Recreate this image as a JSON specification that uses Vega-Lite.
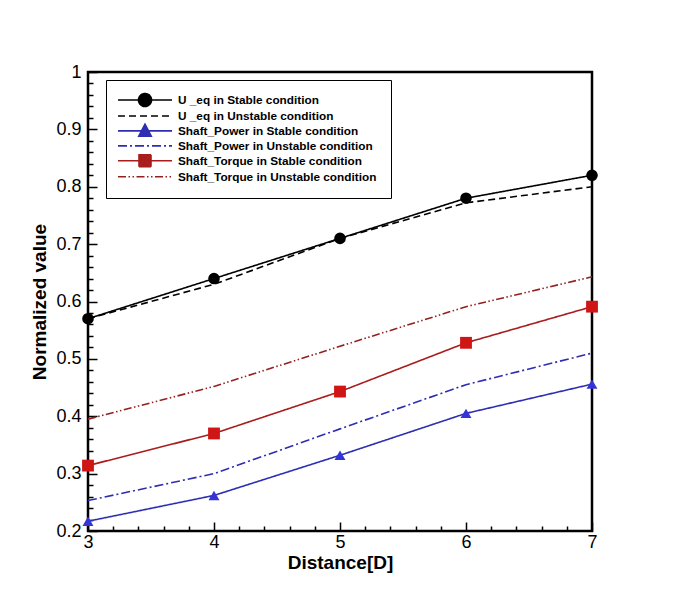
{
  "$schema": "https://vega.github.io/schema/vega-lite/v6.json",
  "width": 504,
  "height": 459,
  "autosize": "none",
  "padding": {"left": 88, "top": 72, "right": 81, "bottom": 67},
  "background": "white",
  "config": {
    "view": {"stroke": "black", "strokeWidth": 2.5},
    "font": "Liberation Sans",
    "legend": {
      "orient": "none",
      "legendX": 18,
      "legendY": 8,
      "padding": 14,
      "strokeColor": "black",
      "fillColor": "white",
      "symbolSize": 100,
      "symbolStrokeWidth": 1.6,
      "symbolOpacity": 1,
      "symbolOffset": 19,
      "labelOffset": 27,
      "rowPadding": -2.1,
      "labelFont": "Liberation Sans",
      "labelFontSize": 11.8,
      "labelFontWeight": "bold",
      "labelColor": "black",
      "labelLimit": 400
    }
  },
  "data": {
    "values": [
      {"x": 3, "v": 0.57, "s": "U _eq in Stable condition"},
      {"x": 4, "v": 0.64, "s": "U _eq in Stable condition"},
      {"x": 5, "v": 0.71, "s": "U _eq in Stable condition"},
      {"x": 6, "v": 0.78, "s": "U _eq in Stable condition"},
      {"x": 7, "v": 0.82, "s": "U _eq in Stable condition"},
      {"x": 3, "v": 0.57, "s": "U _eq in Unstable condition"},
      {"x": 4, "v": 0.63, "s": "U _eq in Unstable condition"},
      {"x": 5, "v": 0.71, "s": "U _eq in Unstable condition"},
      {"x": 6, "v": 0.772, "s": "U _eq in Unstable condition"},
      {"x": 7, "v": 0.80, "s": "U _eq in Unstable condition"},
      {"x": 3, "v": 0.217, "s": "Shaft_Power in Stable condition"},
      {"x": 4, "v": 0.262, "s": "Shaft_Power in Stable condition"},
      {"x": 5, "v": 0.332, "s": "Shaft_Power in Stable condition"},
      {"x": 6, "v": 0.405, "s": "Shaft_Power in Stable condition"},
      {"x": 7, "v": 0.456, "s": "Shaft_Power in Stable condition"},
      {"x": 3, "v": 0.253, "s": "Shaft_Power in Unstable condition"},
      {"x": 4, "v": 0.30, "s": "Shaft_Power in Unstable condition"},
      {"x": 5, "v": 0.378, "s": "Shaft_Power in Unstable condition"},
      {"x": 6, "v": 0.455, "s": "Shaft_Power in Unstable condition"},
      {"x": 7, "v": 0.51, "s": "Shaft_Power in Unstable condition"},
      {"x": 3, "v": 0.314, "s": "Shaft_Torque in Stable condition"},
      {"x": 4, "v": 0.37, "s": "Shaft_Torque in Stable condition"},
      {"x": 5, "v": 0.443, "s": "Shaft_Torque in Stable condition"},
      {"x": 6, "v": 0.528, "s": "Shaft_Torque in Stable condition"},
      {"x": 7, "v": 0.591, "s": "Shaft_Torque in Stable condition"},
      {"x": 3, "v": 0.395, "s": "Shaft_Torque in Unstable condition"},
      {"x": 4, "v": 0.452, "s": "Shaft_Torque in Unstable condition"},
      {"x": 5, "v": 0.522, "s": "Shaft_Torque in Unstable condition"},
      {"x": 6, "v": 0.591, "s": "Shaft_Torque in Unstable condition"},
      {"x": 7, "v": 0.643, "s": "Shaft_Torque in Unstable condition"}
    ]
  },
  "layer": [
    {
      "mark": {"type": "line", "strokeWidth": 1.6},
      "encoding": {
        "x": {
          "field": "x", "type": "quantitative",
          "scale": {"domain": [3, 7], "nice": false, "zero": false},
          "axis": {
            "orient": "bottom",
            "title": "Distance[D]",
            "values": [3, 4, 5, 6, 7],
            "format": "d",
            "tickSize": -9,
            "tickColor": "black",
            "tickWidth": 1.5,
            "domain": false,
            "grid": false,
            "labelFlush": false,
            "labelOverlap": false,
            "labelFont": "Liberation Sans",
            "labelFontSize": 18,
            "labelColor": "black",
            "labelPadding": 11,
            "titleFont": "Liberation Sans",
            "titleFontSize": 19,
            "titleFontWeight": "bold",
            "titleColor": "black",
            "titlePadding": 2
          }
        },
        "y": {
          "field": "v", "type": "quantitative",
          "scale": {"domain": [0.2, 1], "nice": false, "zero": false},
          "axis": {
            "orient": "left",
            "title": "Normalized value",
            "values": [0.2, 0.3, 0.4, 0.5, 0.6, 0.7, 0.8, 0.9, 1],
            "labelExpr": "format(datum.value, '.1~f')",
            "tickSize": -9,
            "tickColor": "black",
            "tickWidth": 1.5,
            "domain": false,
            "grid": false,
            "labelFlush": false,
            "labelOverlap": false,
            "labelFont": "Liberation Sans",
            "labelFontSize": 18,
            "labelColor": "black",
            "labelPadding": 16,
            "titleFont": "Liberation Sans",
            "titleFontSize": 19,
            "titleFontWeight": "bold",
            "titleColor": "black",
            "titlePadding": 6
          }
        },
        "color": {
          "field": "s", "type": "nominal", "title": null,
          "scale": {
            "domain": ["U _eq in Stable condition", "U _eq in Unstable condition", "Shaft_Power in Stable condition", "Shaft_Power in Unstable condition", "Shaft_Torque in Stable condition", "Shaft_Torque in Unstable condition"],
            "range": ["#000000", "#000000", "#2E2EB4", "#2E2EB4", "#A81C1C", "#952020"]
          }
        },
        "strokeDash": {
          "field": "s", "type": "nominal", "title": null,
          "scale": {
            "domain": ["U _eq in Stable condition", "U _eq in Unstable condition", "Shaft_Power in Stable condition", "Shaft_Power in Unstable condition", "Shaft_Torque in Stable condition", "Shaft_Torque in Unstable condition"],
            "range": [[1, 0], [7, 4], [1, 0], [9, 3, 2, 3], [1, 0], [8, 2.5, 1.5, 2.5, 1.5, 2.5]]
          }
        }
      }
    },
    {
      "transform": [{"filter": "datum.s == 'U _eq in Stable condition'"}],
      "mark": {"type": "point", "shape": "circle", "filled": true, "opacity": 1, "size": 135, "color": "#000000"},
      "encoding": {
        "x": {
          "field": "x", "type": "quantitative",
          "axis": {
            "orient": "bottom",
            "title": null,
            "values": [3.2, 3.4, 3.6, 3.8, 4.2, 4.4, 4.6, 4.8, 5.2, 5.4, 5.6, 5.8, 6.2, 6.4, 6.6, 6.8],
            "labels": false,
            "tickSize": -5,
            "tickColor": "black",
            "tickWidth": 1.5,
            "domain": false,
            "grid": false
          }
        },
        "y": {
          "field": "v", "type": "quantitative",
          "axis": {
            "orient": "left",
            "title": null,
            "values": [0.22, 0.24, 0.26, 0.28, 0.32, 0.34, 0.36, 0.38, 0.42, 0.44, 0.46, 0.48, 0.52, 0.54, 0.56, 0.58, 0.62, 0.64, 0.66, 0.68, 0.72, 0.74, 0.76, 0.78, 0.82, 0.84, 0.86, 0.88, 0.92, 0.94, 0.96, 0.98],
            "labels": false,
            "tickSize": -5,
            "tickColor": "black",
            "tickWidth": 1.5,
            "domain": false,
            "grid": false
          }
        }
      }
    },
    {
      "transform": [{"filter": "datum.s == 'Shaft_Power in Stable condition'"}],
      "mark": {"type": "point", "shape": "triangle-up", "filled": true, "opacity": 1, "size": 120, "color": "#3434D6"},
      "encoding": {
        "x": {"field": "x", "type": "quantitative", "axis": null},
        "y": {"field": "v", "type": "quantitative", "axis": null}
      }
    },
    {
      "transform": [{"filter": "datum.s == 'Shaft_Torque in Stable condition'"}],
      "mark": {"type": "point", "shape": "square", "filled": true, "opacity": 1, "size": 140, "color": "#D01515"},
      "encoding": {
        "x": {"field": "x", "type": "quantitative", "axis": null},
        "y": {"field": "v", "type": "quantitative", "axis": null}
      }
    },
    {
      "mark": {"type": "point", "filled": false, "opacity": 0, "size": 100, "strokeWidth": 1.6},
      "encoding": {
        "x": {"field": "x", "type": "quantitative", "axis": null},
        "y": {"field": "v", "type": "quantitative", "axis": null},
        "color": {
          "field": "s", "type": "nominal", "title": null,
          "scale": {
            "domain": ["U _eq in Stable condition", "U _eq in Unstable condition", "Shaft_Power in Stable condition", "Shaft_Power in Unstable condition", "Shaft_Torque in Stable condition", "Shaft_Torque in Unstable condition"],
            "range": ["#000000", "#000000", "#2E2EB4", "#2E2EB4", "#A81C1C", "#952020"]
          }
        },
        "shape": {
          "field": "s", "type": "nominal", "title": null,
          "scale": {
            "domain": ["U _eq in Stable condition", "U _eq in Unstable condition", "Shaft_Power in Stable condition", "Shaft_Power in Unstable condition", "Shaft_Torque in Stable condition", "Shaft_Torque in Unstable condition"],
            "range": [
              "M-5.4,0L5.4,0M-1.3,0A1.3,1.3 0 1,0 1.3,0A1.3,1.3 0 1,0 -1.3,0M-1.05,0A1.05,1.05 0 1,0 1.05,0A1.05,1.05 0 1,0 -1.05,0M-0.8,0A0.8,0.8 0 1,0 0.8,0A0.8,0.8 0 1,0 -0.8,0M-0.55,0A0.55,0.55 0 1,0 0.55,0A0.55,0.55 0 1,0 -0.55,0M-0.3,0A0.3,0.3 0 1,0 0.3,0A0.3,0.3 0 1,0 -0.3,0M-0.12,0L0.12,0",
              "M-5.4,0L5.4,0",
              "M-5.4,0L5.4,0M0,-1.35L1.25,1.05L-1.25,1.05ZM0,-1.0L0.97,0.87L-0.97,0.87ZM0,-0.63L0.69,0.69L-0.69,0.69ZM0,-0.27L0.41,0.52L-0.41,0.52ZM-0.15,0.3L0.15,0.3",
              "M-5.4,0L5.4,0",
              "M-5.4,0L5.4,0M-1.2,-1.2L1.2,-1.2L1.2,1.2L-1.2,1.2ZM-1,-1L1,-1L1,1L-1,1ZM-0.8,-0.8L0.8,-0.8L0.8,0.8L-0.8,0.8ZM-0.6,-0.6L0.6,-0.6L0.6,0.6L-0.6,0.6ZM-0.4,-0.4L0.4,-0.4L0.4,0.4L-0.4,0.4ZM-0.2,-0.2L0.2,-0.2L0.2,0.2L-0.2,0.2Z",
              "M-5.4,0L5.4,0"
            ]
          }
        },
        "strokeDash": {
          "field": "s", "type": "nominal", "title": null,
          "scale": {
            "domain": ["U _eq in Stable condition", "U _eq in Unstable condition", "Shaft_Power in Stable condition", "Shaft_Power in Unstable condition", "Shaft_Torque in Stable condition", "Shaft_Torque in Unstable condition"],
            "range": [[1, 0], [7, 4], [1, 0], [9, 3, 2, 3], [1, 0], [8, 2.5, 1.5, 2.5, 1.5, 2.5]]
          }
        }
      }
    }
  ],
  "resolve": {
    "axis": {"x": "independent", "y": "independent"}
  }
}
